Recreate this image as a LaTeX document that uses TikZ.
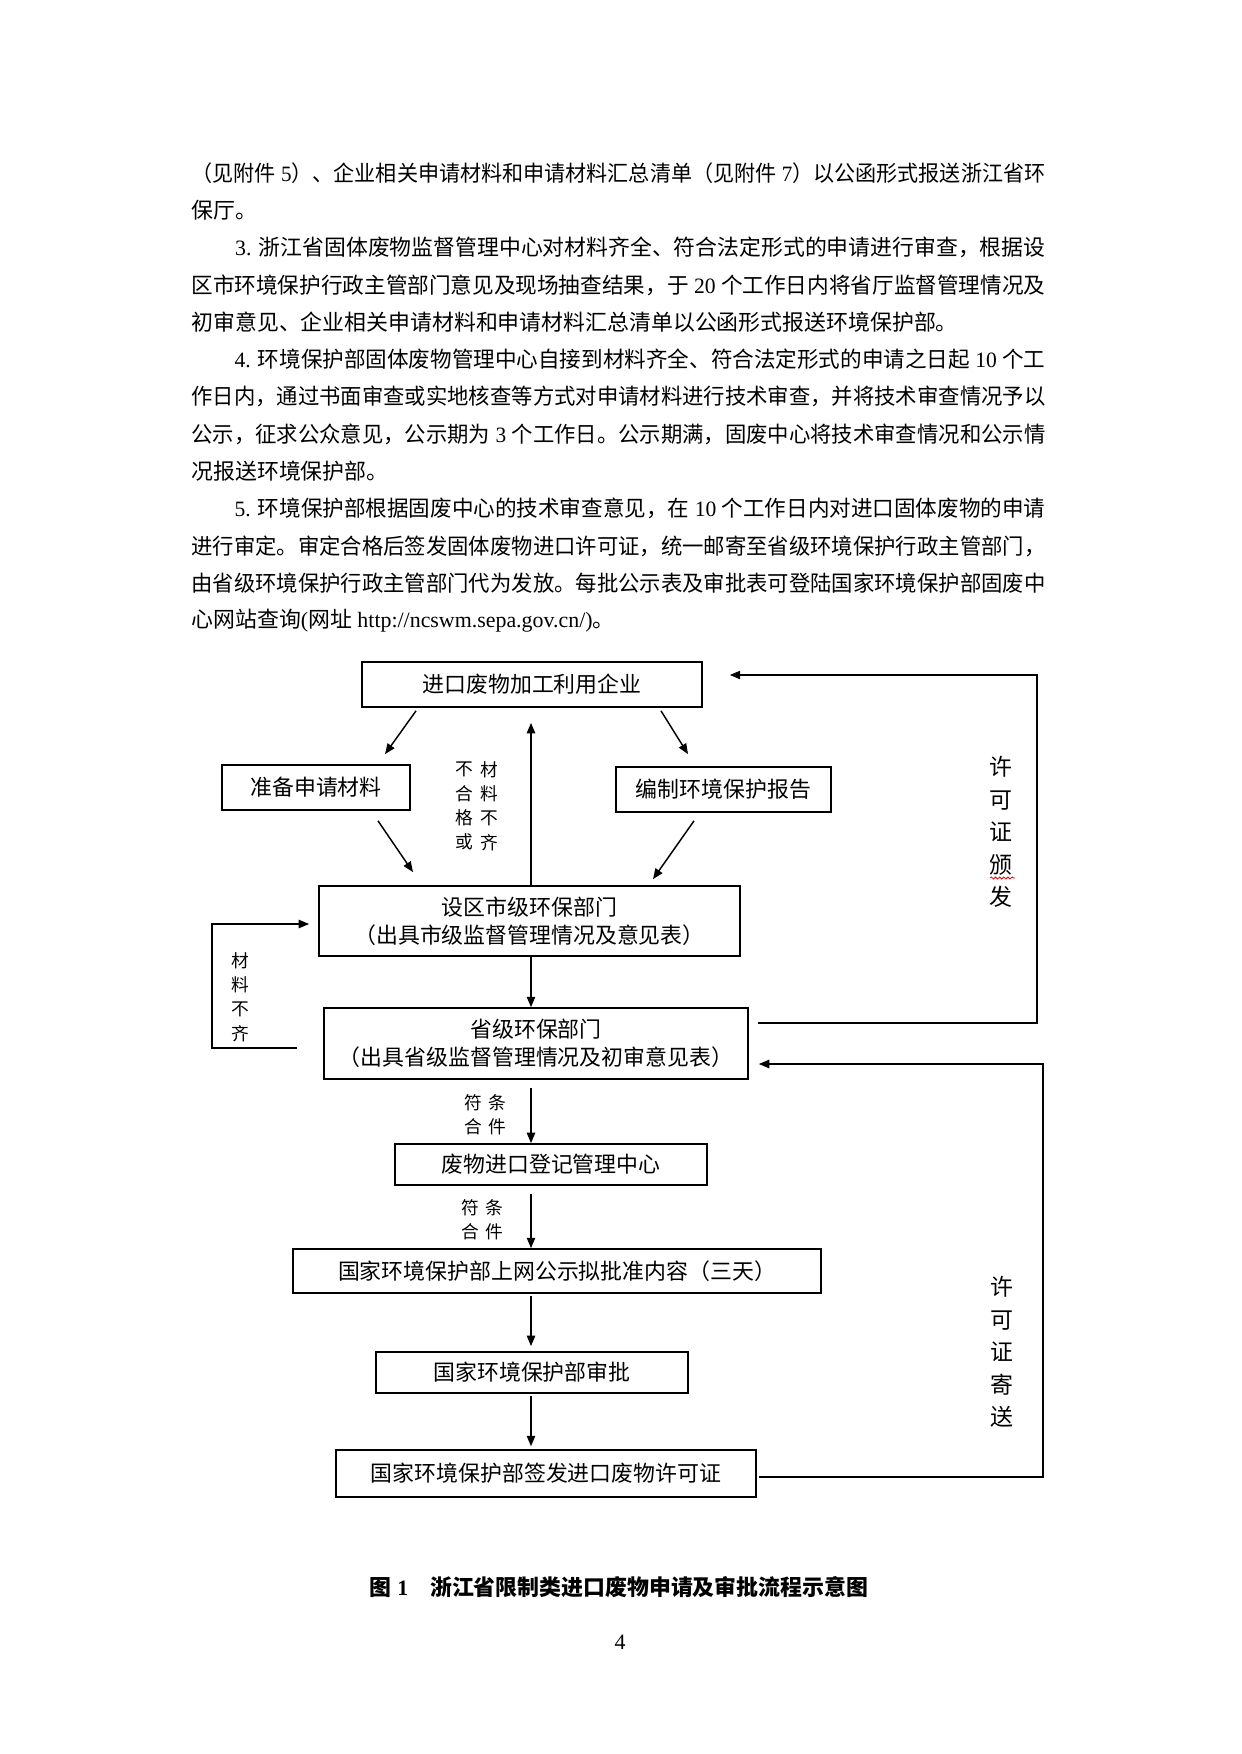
\documentclass[tikz,border=0pt]{standalone}
\usepackage{fontspec}
\usepackage{graphicx}
\usetikzlibrary{arrows.meta,calc,decorations.pathmorphing}
\setmainfont{Liberation Serif}
\newfontfamily\cjk{Noto Sans CJK SC}
\XeTeXlinebreaklocale "zh"
\XeTeXlinebreakskip=0pt plus 2pt
\newlength\colw
\setlength\colw{409.5pt}
\newcommand\ltn[1]{{\rmfamily #1}}
\newcommand\fline[1]{\sbox0{#1}\ifdim\wd0>\colw\resizebox{\colw}{\height}{#1}\else\parbox{\colw}{\parindent=0pt\parfillskip=0pt #1}\fi}

\begin{document}
\begin{tikzpicture}[x=0.4795pt, y=-0.4795pt,
  txt/.style={anchor=west, inner sep=0pt, font=\cjk\fontsize{10.5pt}{13pt}\selectfont},
  box/.style={draw, line width=0.8pt, inner sep=0pt, align=center, font=\cjk\fontsize{10.5pt}{13.4pt}\selectfont},
  arr/.style={line width=0.7pt, -{Triangle[length=5pt,width=4pt]}},
  tag/.style={inner sep=0pt, align=center, font=\cjk\fontsize{8.5pt}{11.6pt}\selectfont},
  vtag/.style={inner sep=0pt, align=center, font=\cjk\fontsize{11pt}{15.6pt}\selectfont}]
\useasboundingbox (0,0) rectangle (1241,1754);
\node[txt] (l1) at (191,173) {\fline{（见附件\ltn{ 5}）、企业相关申请材料和申请材料汇总清单（见附件\ltn{ 7}）以公函形式报送浙江省环}};
\node[txt] (l2) at (191,210.3) {保厅。};
\node[txt] (l3) at (191,247.6) {\fline{\hspace*{2em}\ltn{3. }浙江省固体废物监督管理中心对材料齐全、符合法定形式的申请进行审查，根据设}};
\node[txt] (l4) at (191,284.9) {\fline{区市环境保护行政主管部门意见及现场抽查结果，于\ltn{ 20 }个工作日内将省厅监督管理情况及}};
\node[txt] (l5) at (191,322.2) {初审意见、企业相关申请材料和申请材料汇总清单以公函形式报送环境保护部。};
\node[txt] (l6) at (191,359.5) {\fline{\hspace*{2em}\ltn{4. }环境保护部固体废物管理中心自接到材料齐全、符合法定形式的申请之日起\ltn{ 10 }个工}};
\node[txt] (l7) at (191,396.8) {\fline{作日内，通过书面审查或实地核查等方式对申请材料进行技术审查，并将技术审查情况予以}};
\node[txt] (l8) at (191,434.1) {\fline{公示，征求公众意见，公示期为\ltn{ 3 }个工作日。公示期满，固废中心将技术审查情况和公示情}};
\node[txt] (l9) at (191,471.4) {况报送环境保护部。};
\node[txt] (l10) at (191,508.7) {\fline{\hspace*{2em}\ltn{5. }环境保护部根据固废中心的技术审查意见，在\ltn{ 10 }个工作日内对进口固体废物的申请}};
\node[txt] (l11) at (191,546) {\fline{进行审定。审定合格后签发固体废物进口许可证，统一邮寄至省级环境保护行政主管部门，}};
\node[txt] (l12) at (191,583.3) {\fline{由省级环境保护行政主管部门代为发放。每批公示表及审批表可登陆国家环境保护部固废中}};
\node[txt] (l13) at (191,620.6) {心网站查询\ltn{(}网址\ltn{ http://ncswm.sepa.gov.cn/)}。};
\node[box, minimum width=163pt, minimum height=21.6pt] (firm) at (532,684.5) {进口废物加工利用企业};
\node[box, minimum width=90.1pt, minimum height=21.6pt] (prep) at (316,787.5) {准备申请材料};
\node[box, minimum width=103.1pt, minimum height=21.6pt] (edit) at (723.5,789.5) {编制环境保护报告};
\node[box, minimum width=201.9pt, minimum height=33.6pt] (city) at (529.5,921) {设区市级环保部门\\（出具市级监督管理情况及意见表）};
\node[box, minimum width=203.3pt, minimum height=34pt] (prov) at (536,1043.5) {省级环保部门\\（出具省级监督管理情况及初审意见表）};
\node[box, minimum width=149.6pt, minimum height=19.7pt] (reg) at (551,1164.5) {废物进口登记管理中心};
\node[box, minimum width=253.2pt, minimum height=21.1pt] (pub) at (557,1271) {国家环境保护部上网公示拟批准内容（三天）};
\node[box, minimum width=149.6pt, minimum height=19.7pt] (appr) at (532,1372.5) {国家环境保护部审批};
\node[box, minimum width=201.4pt, minimum height=22.5pt] (sign) at (546,1473.5) {国家环境保护部签发进口废物许可证};
\coordinate (axis) at (531,0);
\draw[arr, shorten >=7.2pt] (city.north -| axis) -- (firm.south -| axis);
\draw[arr] (city.south -| axis) -- (prov.north -| axis);
\draw[arr, shorten <=3.8pt] (prov.south -| axis) -- (reg.north -| axis);
\draw[arr, shorten <=3.8pt] (reg.south -| axis) -- (pub.north -| axis);
\draw[arr, shorten <=1pt, shorten >=2.4pt] (pub.south -| axis) -- (appr.north -| axis);
\draw[arr, shorten <=1pt, shorten >=1.4pt] (appr.south -| axis) -- (sign.north -| axis);
\draw[arr] ($(firm.south)+(-116,3)$) -- ($(prep.north)+(69,-10)$);
\draw[arr] ($(firm.south)+(129,3)$) -- ($(edit.north)+(-35.5,-12)$);
\draw[arr] ($(prep.south)+(62,10)$) -- ($(city.north)+(-116.5,-13)$);
\draw[arr] ($(edit.south)+(-29.5,8)$) -- ($(city.north)+(123.5,-6)$);
\draw[arr] ($(prov.west)+(-26,4.5)$) -| ($(city.west)+(-106,3)$) -- ($(city.west)+(-9,3)$);
\draw[arr] ($(prov.east)+(9,-20.5)$) -| ($(firm.east)+(334,-9.5)$) -- ($(firm.east)+(27,-9.5)$);
\draw[arr] ($(sign.east)+(2,3.5)$) -| ($(prov.east)+(294,20.5)$) -- ($(prov.east)+(10,20.5)$);
\node[tag] (nok1) at (464,806) {不\\合\\格\\或};
\node[tag] (nok2) at (489,806) {材\\料\\不\\齐};
\node[tag] (lack) at (240,997) {材\\料\\不\\齐};
\node[tag] (ok1) at (485,1115) {符\hspace{3pt}条\\合\hspace{3pt}件};
\node[tag] (ok2) at (482,1220) {符\hspace{3pt}条\\合\hspace{3pt}件};
\node[vtag] (issue) at (1001,832) {许\\可\\证\\颁\\发};
\node[vtag] (mail) at (1002,1352) {许\\可\\证\\寄\\送};
\draw[red, line width=0.4pt, decorate, decoration={snake, amplitude=0.5pt, segment length=2pt}] ($(issue)+(-11,46)$) -- ($(issue)+(14,46)$);
\node[inner sep=0pt, font=\cjk\bfseries\fontsize{10.5pt}{13pt}\selectfont] (cap) at (619,1587) {图\ltn{ 1}\hspace{1em}浙江省限制类进口废物申请及审批流程示意图};
\node[inner sep=0pt, font=\fontsize{10.5pt}{13pt}\selectfont] (pg) at (620,1642) {4};
\end{tikzpicture}
\end{document}
